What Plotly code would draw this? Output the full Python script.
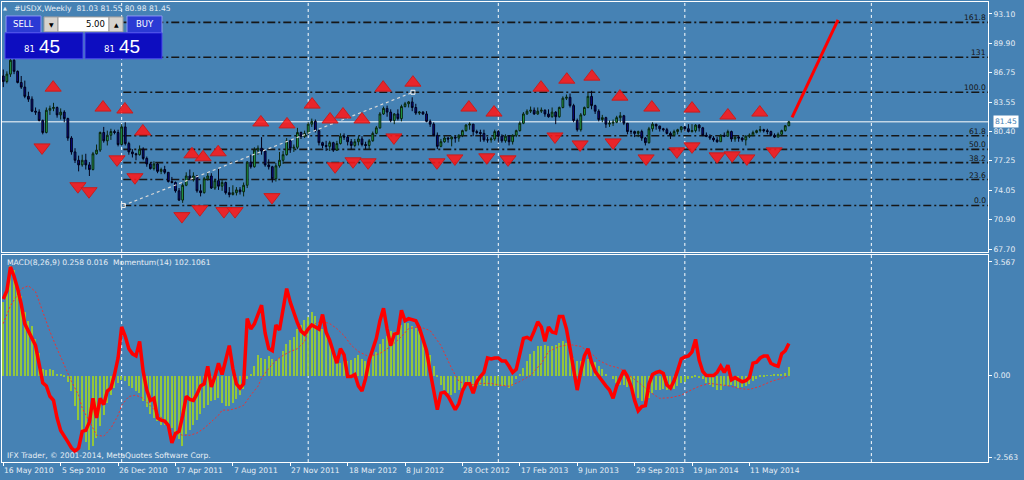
import plotly.graph_objects as go

W, H = 1024, 480
BG = "#4682B4"
FONT = "DejaVu Sans"
TXT = "#E6EEF5"

# ---------------- data ----------------
bars = list(range(220))
first_open = 86.4
close = [85.8, 86.6, 88.1, 86.9, 85.7, 85.2, 84.2, 83.9, 82.6, 82.5,
         81.6, 80.3, 82.7, 82.9, 83.0, 82.2, 82.5, 81.8, 79.7, 78.2,
         77.3, 76.8, 77.3, 76.8, 76.3, 78.0, 78.4, 80.3, 79.4, 80.0,
         80.4, 80.3, 79.0, 80.9, 79.1, 78.2, 78.0, 77.9, 78.5, 77.5,
         76.9, 76.4, 76.9, 76.1, 76.3, 76.0, 75.0, 74.9, 74.0, 73.0,
         74.6, 75.6, 75.3, 75.6, 74.0, 73.8, 75.3, 75.6, 74.3, 75.1,
         74.5, 74.9, 73.8, 73.6, 73.8, 74.1, 73.9, 74.6, 77.1, 76.6,
         78.4, 78.6, 78.3, 76.8, 76.6, 75.3, 76.7, 77.3, 77.9, 79.4,
         78.6, 78.7, 80.3, 79.9, 80.2, 81.2, 81.5, 80.5, 79.2, 78.9,
         78.8, 79.2, 78.4, 79.1, 79.9, 79.8, 79.3, 78.9, 79.3, 79.6,
         79.0, 78.9, 79.4, 80.2, 80.8, 82.3, 82.9, 82.5, 81.6, 82.3,
         81.8, 83.1, 83.4, 83.6, 83.0, 82.4, 82.5, 82.3, 81.5, 81.2,
         80.0, 78.8, 79.3, 79.7, 79.6, 79.8, 79.7, 80.0, 80.5, 81.1,
         81.2, 80.4, 80.3, 80.2, 79.5, 79.5, 79.6, 80.4, 79.9, 79.4,
         79.9, 79.3, 80.0, 80.5, 81.3, 82.3, 82.6, 82.7, 82.3, 82.6,
         82.7, 82.3, 82.0, 82.5, 82.0, 83.0, 84.0, 84.1, 83.2, 81.6,
         80.6, 82.2, 83.0, 84.2, 83.2, 82.6, 81.7, 81.9, 81.2, 81.3,
         81.4, 81.9, 82.1, 81.3, 80.4, 80.4, 80.2, 80.4, 79.7, 79.2,
         80.7, 81.2, 81.0, 80.7, 80.6, 80.2, 80.0, 80.4, 80.6, 80.9,
         80.7, 80.4, 80.5, 81.1, 80.8, 80.0, 79.9, 79.7, 79.5, 79.3,
         80.0, 79.9, 80.4, 79.6, 79.8, 79.7, 79.5, 79.9, 80.0, 80.3,
         80.5, 80.6, 80.5, 80.4, 80.0, 79.8, 80.1, 80.5, 81.03, 81.45]
high = [87.1, 86.9, 88.3, 88.7, 87.0, 86.4, 85.9, 84.7, 84.2, 83.0,
        82.8, 81.7, 83.0, 83.2, 83.5, 83.1, 82.9, 82.7, 81.9, 79.9,
        78.6, 77.8, 77.9, 78.0, 77.1, 78.2, 79.0, 80.4, 80.9, 80.5,
        80.7, 80.6, 80.6, 81.2, 81.4, 79.3, 78.5, 78.1, 78.9, 78.7,
        77.7, 77.1, 77.2, 77.0, 76.5, 76.7, 76.0, 75.5, 75.0, 74.3,
        74.8, 76.0, 76.3, 76.0, 75.7, 74.7, 75.5, 76.0, 75.9, 75.3,
        76.4, 75.2, 75.0, 74.4, 74.6, 74.4, 74.4, 74.9, 77.2, 77.9,
        78.7, 78.9, 79.8, 78.4, 77.4, 76.7, 77.0, 78.2, 78.3, 79.7,
        79.5, 79.0, 80.8, 80.4, 80.5, 81.4, 81.8, 81.7, 80.6, 79.3,
        79.4, 79.4, 79.3, 79.4, 80.2, 80.2, 80.0, 79.6, 79.6, 79.9,
        79.9, 79.3, 79.6, 80.4, 81.0, 82.5, 83.1, 83.2, 82.8, 82.4,
        82.8, 83.3, 83.6, 83.7, 84.1, 83.4, 82.6, 82.6, 82.6, 81.7,
        81.4, 80.3, 79.6, 79.9, 79.8, 79.9, 79.9, 80.1, 80.6, 81.2,
        81.4, 81.2, 80.6, 80.6, 80.6, 79.8, 79.8, 80.6, 80.6, 80.1,
        80.1, 80.0, 80.1, 80.6, 81.5, 82.5, 82.8, 83.1, 83.0, 83.0,
        83.0, 82.8, 82.8, 83.0, 82.6, 83.1, 84.2, 84.4, 84.5, 83.4,
        81.8, 82.4, 83.1, 84.6, 84.8, 83.3, 82.8, 82.2, 82.0, 81.6,
        81.7, 82.1, 82.5, 82.2, 81.3, 80.6, 80.5, 80.5, 80.6, 79.8,
        80.9, 81.4, 81.2, 81.0, 80.8, 80.8, 80.4, 80.6, 80.7, 81.0,
        81.0, 81.2, 81.2, 81.2, 81.2, 80.9, 80.3, 80.1, 79.9, 79.8,
        80.1, 80.3, 80.6, 80.5, 79.9, 79.9, 79.8, 80.0, 80.2, 80.5,
        80.6, 81.0, 80.7, 80.7, 80.5, 80.2, 80.3, 80.6, 81.1, 81.55]
low = [85.2, 85.6, 86.3, 86.6, 85.6, 85.0, 84.0, 83.6, 82.5, 82.2,
       81.5, 80.1, 80.2, 82.2, 82.6, 81.9, 81.7, 81.4, 79.4, 77.9,
       77.0, 76.1, 76.6, 76.3, 75.6, 76.2, 77.9, 78.2, 79.2, 78.9,
       79.5, 80.1, 78.8, 78.9, 78.9, 77.9, 77.6, 77.3, 77.8, 77.3,
       76.6, 76.3, 76.2, 75.9, 75.8, 75.8, 74.9, 74.8, 73.8, 72.9,
       72.7, 74.5, 75.2, 75.0, 73.8, 73.4, 73.7, 75.1, 74.2, 74.1,
       74.1, 74.0, 73.6, 73.3, 73.5, 73.5, 73.6, 73.4, 74.3, 76.4,
       76.5, 77.9, 77.9, 76.6, 76.3, 74.9, 75.0, 76.5, 76.9, 77.8,
       78.1, 78.2, 78.5, 79.6, 79.7, 80.0, 80.9, 80.3, 78.9, 78.6,
       78.3, 78.3, 78.2, 78.3, 79.0, 79.5, 78.9, 78.5, 78.7, 78.9,
       78.8, 78.5, 78.5, 79.3, 80.1, 80.7, 82.2, 82.0, 81.4, 81.2,
       81.6, 81.5, 83.0, 83.0, 82.6, 82.2, 82.2, 82.2, 81.4, 80.9,
       79.9, 78.5, 78.7, 79.2, 79.2, 78.8, 79.2, 79.3, 79.8, 80.4,
       80.6, 79.9, 80.1, 79.3, 79.3, 79.2, 79.2, 79.4, 79.2, 79.2,
       79.2, 78.9, 79.0, 79.8, 80.4, 81.2, 82.2, 82.4, 82.2, 82.2,
       82.4, 82.0, 81.9, 81.9, 81.2, 81.9, 82.9, 83.8, 83.0, 81.4,
       80.4, 80.4, 82.1, 82.9, 82.8, 82.3, 81.5, 81.4, 80.8, 80.9,
       81.0, 81.3, 81.4, 81.1, 80.1, 80.1, 79.8, 79.8, 79.4, 78.9,
       79.1, 80.4, 80.6, 80.4, 80.4, 80.1, 79.6, 79.9, 80.1, 80.3,
       80.4, 80.3, 80.3, 80.3, 80.4, 79.9, 79.8, 79.5, 79.3, 79.2,
       79.3, 79.8, 79.9, 79.3, 79.3, 79.3, 79.3, 78.9, 79.7, 79.9,
       80.2, 80.3, 80.3, 80.1, 79.9, 79.7, 79.8, 79.9, 80.4, 80.98]
opens = [first_open] + close[:-1]

macd_hist = [2.3, 2.6, 3.45, 3.3, 2.9, 2.5, 2.0, 1.7, 1.55, 1.15,
             0.7, 0.22, 0.16, 0.22, 0.18, 0.06, 0.03, -0.05, -0.19, -0.5,
             -0.95, -1.4, -1.85, -2.1, -2.35, -2.2, -1.95, -1.6, -1.25, -0.85,
             -0.6, -0.4, -0.22, -0.15, -0.18, -0.32, -0.4, -0.5, -0.55, -0.81,
             -1.0, -1.2, -1.35, -1.44, -1.55, -1.57, -1.62, -1.66, -1.8, -2.0,
             -2.2, -1.85, -1.7, -1.55, -1.4, -1.2, -1.03, -0.94, -0.81, -0.78,
             -0.72, -0.85, -0.97, -0.97, -0.85, -0.74, -0.62, -0.42, -0.1, 0.05,
             0.3, 0.63, 0.55, 0.53, 0.62, 0.53, 0.45, 0.55, 0.78, 1.0,
             1.12, 1.2, 1.45, 1.6, 1.75, 1.85, 2.0, 1.88, 1.65, 1.47,
             1.38, 1.1, 0.84, 0.55, 0.4, 0.45, 0.45, 0.5, 0.56, 0.63,
             0.53, 0.44, 0.55, 0.65, 0.75, 1.0, 1.16, 1.25, 1.41, 1.38,
             1.45, 1.58, 1.66, 1.65, 1.55, 1.48, 1.4, 1.16, 0.91, 0.63,
             0.3, -0.05, -0.3, -0.47, -0.56, -0.62, -0.56, -0.47, -0.4, -0.34,
             -0.32, -0.33, -0.34, -0.3, -0.34, -0.34, -0.34, -0.34, -0.34, -0.34,
             -0.32, -0.38, -0.33, -0.12, 0.02, 0.25, 0.47, 0.67, 0.78, 0.94,
             0.94, 0.96, 0.94, 0.93, 0.95, 1.03, 1.08, 1.02, 0.8, 0.55,
             0.44, 0.47, 0.53, 0.53, 0.46, 0.42, 0.3, 0.2, 0.06, 0.0,
             -0.1, -0.25, -0.3, -0.3, -0.36, -0.47, -0.62, -0.72, -0.81, -0.8,
             -0.7, -0.55, -0.47, -0.47, -0.42, -0.47, -0.47, -0.41, -0.33, -0.25,
             -0.19, -0.12, -0.08, -0.05, -0.07, -0.12, -0.22, -0.29, -0.36, -0.47,
             -0.45, -0.34, -0.34, -0.31, -0.34, -0.38, -0.37, -0.34, -0.27, -0.17,
             -0.1, -0.05, -0.05, -0.01, 0.01, 0.03, 0.02, 0.03, 0.08, 0.26]

signal_bars = [0, 2, 5, 7, 9, 11, 13, 15, 17, 19, 21, 22, 24, 26, 28, 30, 32, 33, 35, 37,
               39, 41, 43, 45, 46, 48, 50, 52, 54, 56, 58, 60, 61, 63, 65, 67, 69, 71, 72, 74,
               76, 78, 80, 82, 84, 85, 87, 89, 91, 93, 95, 97, 99, 102, 105, 108, 111, 113, 116, 119,
               122, 125, 127, 130, 133, 136, 138, 141, 144, 147, 150, 152, 155, 158, 161, 164, 166, 169, 172, 175,
               178, 180, 183, 186, 189, 191, 194, 197, 200, 203, 205, 208, 211, 214, 217, 219]
signal_vals = [1.63, 2.19, 2.72, 2.82, 2.63, 2.0, 1.38, 0.84, 0.31, -0.19, -0.62, -1.03, -1.44, -1.88, -1.91, -1.66, -1.25, -0.94, -0.66, -0.62,
               -0.72, -0.94, -1.19, -1.44, -1.66, -1.81, -1.88, -1.88, -1.81, -1.66, -1.44, -1.25, -1.09, -1.09, -1.03, -0.94, -0.62, -0.34, -0.09, 0.22,
               0.47, 0.63, 0.75, 0.84, 1.06, 1.38, 1.63, 1.69, 1.63, 1.47, 1.25, 0.95, 0.75, 0.59, 0.69, 0.91, 1.22, 1.47, 1.53, 1.41,
               0.94, 0.22, -0.19, -0.3, -0.25, -0.25, -0.3, -0.34, -0.19, 0.0, 0.38, 0.75, 0.91, 0.97, 0.91, 0.69, 0.47, 0.31, 0.22, -0.03,
               -0.3, -0.5, -0.72, -0.7, -0.62, -0.5, -0.34, -0.25, -0.3, -0.34, -0.41, -0.44, -0.34, -0.19, -0.09, 0.0]

momentum = [106.4, 107.2, 109.5, 108.6, 107.4, 105.9, 104.0, 103.3, 102.5, 101.9,
            100.1, 98.3, 98.0, 97.0, 96.6, 94.9, 93.7, 93.2, 92.6, 92.0,
            91.7, 92.0, 93.6, 93.7, 94.5, 96.8, 94.9, 96.8, 96.2, 97.5,
            97.8, 99.1, 100.7, 103.7, 102.8, 101.6, 101.1, 100.9, 102.3, 99.4,
            97.6, 96.6, 96.8, 94.9, 94.7, 94.6, 94.2, 92.5, 93.4, 93.6,
            95.1, 97.0, 96.7, 96.6, 97.2, 98.0, 98.2, 99.9, 97.9, 98.9,
            100.2, 99.1, 100.7, 101.9, 99.7, 98.2, 97.8, 98.2, 104.5, 103.5,
            104.0, 105.0, 105.8, 103.1, 101.6, 101.4, 103.9, 103.4, 105.5, 107.4,
            106.1, 105.0, 104.1, 103.3, 103.0, 103.5, 103.9, 103.7, 103.5, 104.9,
            103.2, 102.4, 101.4, 100.2, 101.6, 101.0, 98.9, 98.9, 99.1, 98.0,
            97.5, 98.7, 100.5, 101.6, 102.6, 104.3, 105.5, 103.5, 101.9, 103.0,
            103.1, 105.3, 104.3, 104.5, 104.4, 104.3, 103.6, 102.6, 101.4, 99.4,
            97.4, 95.7, 97.3, 97.4, 97.0, 96.3, 95.7, 96.3, 97.5, 98.2,
            98.2, 97.3, 98.4, 98.9, 99.3, 100.7, 100.6, 100.7, 100.7, 100.4,
            100.4, 99.9, 99.3, 99.6, 101.1, 102.6, 102.7, 102.5, 103.3, 104.2,
            103.7, 102.3, 103.7, 103.2, 103.1, 104.7, 104.7, 103.5, 101.6, 99.7,
            97.6, 99.4, 100.9, 101.6, 100.3, 99.4, 98.9, 98.5, 98.0, 97.6,
            96.8, 98.0, 98.7, 99.5, 98.9, 98.0, 96.6, 95.6, 96.0, 96.1,
            98.2, 99.1, 99.3, 99.4, 99.2, 98.1, 97.8, 98.5, 99.5, 100.6,
            100.8, 100.9, 101.3, 102.5, 100.5, 99.4, 99.0, 99.0, 99.0, 99.3,
            99.9, 99.3, 100.0, 98.6, 98.8, 98.6, 98.4, 98.5, 98.8, 100.2,
            100.3, 100.7, 100.9, 100.9, 100.2, 100.0, 99.9, 101.1, 101.4, 102.1]

up_arrow_bars = [13.9, 27.8, 33.9, 38.9, 52.6, 55.7, 59.9, 71.8, 79.1, 86.1, 91.1, 94.7, 100.0,
                 105.9, 114.2, 129.8, 136.8, 149.9, 157.1, 164.1, 171.9, 180.8, 192.0, 202.0, 210.9]
up_arrow_prices = [85.14, 82.99, 82.78, 80.41, 77.94, 77.62, 78.16, 81.38, 81.17, 83.31, 81.70, 82.24, 81.70,
                   85.14, 85.68, 82.99, 82.45, 85.14, 86.00, 86.33, 84.17, 82.99, 82.88, 82.13, 82.45]
down_arrow_bars = [10.8, 20.8, 23.9, 31.7, 36.7, 49.8, 54.8, 61.5, 64.6, 74.9, 92.5, 97.5, 101.7, 108.9,
                   120.9, 125.9, 134.8, 140.7, 153.8, 160.8, 170.0, 179.2, 187.8, 192.0, 199.0, 203.2, 207.3, 214.9]
down_arrow_prices = [78.69, 74.50, 73.96, 77.40, 75.47, 71.27, 72.02, 71.81, 71.81, 73.32, 76.65, 77.19, 77.08, 79.77,
                     77.08, 77.50, 77.62, 77.40, 79.87, 79.01, 79.23, 77.50, 78.26, 78.80, 77.72, 77.83, 77.50, 78.26]

fib_levels = ["0.0", "23.6", "38.2", "50.0", "61.8", "100.0", "131", "161.8"]
fib_prices = [72.42, 75.22, 77.04, 78.48, 79.95, 84.64, 88.42, 92.19]
fib_anchor_bars = [33.45, 114.2]
fib_anchor_prices = [72.42, 84.64]

trend_bars = [219.9, 232.7]
trend_prices = [81.92, 92.46]

price_ticks = [93.10, 89.90, 86.75, 83.55, 80.40, 77.25, 74.05, 70.90, 67.70]
price_tick_text = ["93.10", "89.90", "86.75", "83.55", "80.40", "77.25", "74.05", "70.90", "67.70"]
macd_ticks = [3.567, 0.0, -2.563]
macd_tick_text = ["3.567", "0.00", "-2.563"]
date_bars = [0, 16, 32, 48, 64, 80, 96, 112, 128, 144, 160, 176, 192, 208]
date_labels = ["16 May 2010", "5 Sep 2010", "26 Dec 2010", "17 Apr 2011", "7 Aug 2011", "27 Nov 2011",
               "18 Mar 2012", "8 Jul 2012", "28 Oct 2012", "17 Feb 2013", "9 Jun 2013", "29 Sep 2013",
               "19 Jan 2014", "11 May 2014"]
year_grid_bars = [33, 85, 138, 190, 242]
current_price = 81.45

# ---------------- figure ----------------
def py(y):
    return 1 - y / H

def px(x):
    return x / W

fig = go.Figure()

fig.add_trace(go.Candlestick(
    x=bars, open=opens, high=high, low=low, close=close, xaxis="x", yaxis="y",
    increasing=dict(line=dict(color="#0A240E", width=1), fillcolor="#27B050"),
    decreasing=dict(line=dict(color="#020218", width=1), fillcolor="#0B0B8C"),
    whiskerwidth=0, showlegend=False, hoverinfo="skip"))

fig.add_trace(go.Scatter(
    x=fib_anchor_bars, y=fib_anchor_prices, mode="lines+markers", xaxis="x", yaxis="y",
    line=dict(color="#D8D8D8", width=1.2, dash="3px,3px"),
    marker=dict(symbol="square-open", size=4, color="#F0F0F0"),
    showlegend=False, hoverinfo="skip"))

arrow_marker = dict(size=14, color="rgba(255,24,24,0.88)", line=dict(color="#C81E1E", width=1))
fig.add_trace(go.Scatter(
    x=up_arrow_bars, y=up_arrow_prices, mode="markers", xaxis="x", yaxis="y",
    marker=dict(symbol="triangle-up", **arrow_marker), showlegend=False, hoverinfo="skip"))
fig.add_trace(go.Scatter(
    x=down_arrow_bars, y=down_arrow_prices, mode="markers", xaxis="x", yaxis="y",
    marker=dict(symbol="triangle-down", **arrow_marker), showlegend=False, hoverinfo="skip"))

fig.add_trace(go.Scatter(
    x=trend_bars, y=trend_prices, mode="lines", xaxis="x", yaxis="y",
    line=dict(color="#FF0000", width=3), showlegend=False, hoverinfo="skip"))

# lower panel
fig.add_trace(go.Bar(
    x=bars, y=macd_hist, xaxis="x2", yaxis="y3", width=0.38,
    marker=dict(color="#9ACD32", opacity=0.92, line=dict(width=0)), showlegend=False, hoverinfo="skip"))
fig.add_trace(go.Scatter(
    x=signal_bars, y=signal_vals, mode="lines", xaxis="x2", yaxis="y3",
    line=dict(color="#F03030", width=1, dash="2px,2px"), showlegend=False, hoverinfo="skip"))
fig.add_trace(go.Scatter(
    x=bars, y=momentum, mode="lines", xaxis="x2", yaxis="y4",
    line=dict(color="#FF0000", width=3.5), showlegend=False, hoverinfo="skip"))

xr = [-0.36, 274.52]
axis_font = dict(family=FONT, size=7.6, color=TXT)

fig.update_layout(
    width=W, height=H, margin=dict(l=0, r=0, t=0, b=0),
    paper_bgcolor=BG, plot_bgcolor=BG, showlegend=False, bargap=0,
    font=dict(family=FONT, color=TXT),
    xaxis=dict(domain=[px(2), px(988)], range=xr, anchor="y", showgrid=False, zeroline=False,
               showticklabels=False, ticks="", showline=True, mirror=True, linecolor="white",
               linewidth=1, rangeslider=dict(visible=False)),
    yaxis=dict(domain=[py(253), py(2)], range=[67.40, 94.39], side="right", anchor="x",
               tickvals=price_ticks, ticktext=price_tick_text, ticks="outside", ticklen=3,
               tickcolor="white", tickfont=axis_font, showgrid=False, zeroline=False,
               showline=True, mirror=True, linecolor="white", linewidth=1),
    xaxis2=dict(domain=[px(2), px(988)], range=xr, anchor="y3", showgrid=False, zeroline=False,
                tickvals=date_bars, ticks="outside", ticklen=3, tickcolor="white",
                showticklabels=False, showline=True, mirror=True, linecolor="white", linewidth=1),
    yaxis3=dict(domain=[py(464), py(256)], range=[-2.722, 3.786], side="right", anchor="x2",
                tickvals=macd_ticks, ticktext=macd_tick_text, ticks="outside", ticklen=3,
                tickcolor="white", tickfont=axis_font, showgrid=False, zeroline=False,
                showline=True, mirror=True, linecolor="white", linewidth=1),
    yaxis4=dict(overlaying="y3", range=[90.64, 110.66], visible=False, anchor="x2"),
)

# vertical year grid (both panels)
for b in year_grid_bars:
    for yr in ("y domain", "y3 domain"):
        fig.add_shape(type="line", xref="x", yref=yr, x0=b, x1=b, y0=0, y1=1,
                      line=dict(color="white", width=1, dash="3px,3px"), layer="below")

# fibonacci levels
for lab, p in zip(fib_levels, fib_prices):
    fig.add_shape(type="line", xref="x", yref="y", x0=fib_anchor_bars[0], x1=xr[1], y0=p, y1=p,
                  line=dict(color="#161616", width=1.6, dash="8px,3px,2px,3px"), layer="below")
    fig.add_annotation(xref="paper", yref="y", x=px(987), y=p, text=lab, showarrow=False,
                       xanchor="right", yanchor="bottom", yshift=-1, borderpad=0,
                       font=dict(family=FONT, size=7.6, color="#151515"))

# current price line and label
fig.add_shape(type="line", xref="x domain", yref="y", x0=0, x1=1, y0=current_price, y1=current_price,
              line=dict(color="white", width=1), layer="below")
fig.add_annotation(xref="paper", yref="y", x=px(993), y=current_price, text="81.45", showarrow=False,
                   xanchor="left", yanchor="middle", bgcolor="white", borderpad=1,
                   font=dict(family=FONT, size=7.6, color=BG))

# date labels
for b, lab in zip(date_bars, date_labels):
    fig.add_annotation(xref="x2", yref="paper", x=b, y=py(472), text=lab, showarrow=False,
                       xanchor="left", yanchor="middle", xshift=0, borderpad=0, font=axis_font)

def label(x, y, s, size=7.6, color=TXT, xanchor="left", family=FONT):
    fig.add_annotation(xref="paper", yref="paper", x=px(x), y=py(y), text=s, showarrow=False,
                       xanchor=xanchor, yanchor="middle", borderpad=0,
                       font=dict(family=family, size=size, color=color))

def rect(x0, y0, x1, y1, fill, line):
    fig.add_shape(type="rect", xref="paper", yref="paper", x0=px(x0), x1=px(x1), y0=py(y1), y1=py(y0),
                  fillcolor=fill, line=dict(color=line, width=1), layer="above")

label(2, 8.5, "▲", size=5)
label(13, 8.5, "#USDX,Weekly  81.03 81.55 80.98 81.45")
label(6, 264, "MACD(8,26,9) 0.258 0.016  Momentum(14) 102.1061")
label(6, 457, "IFX Trader, © 2001-2014, MetaQuotes Software Corp.")

# one-click trading panel
rect(6, 16, 41, 33, "#2B3AD4", "#8C98F2")
rect(127, 16, 162, 33, "#2B3AD4", "#8C98F2")
rect(44, 17, 58, 32, "#D6D3CE", "#9A9A9A")
rect(58, 17, 109, 32, "#FFFFFF", "#9A9A9A")
rect(109, 17, 123, 32, "#D6D3CE", "#9A9A9A")
rect(5, 33, 83, 59, "#0D0DC0", "#4A4AEE")
rect(85, 33, 162, 59, "#0D0DC0", "#4A4AEE")
label(23.5, 24.5, "SELL", size=8.5, color="white", xanchor="center")
label(144.5, 24.5, "BUY", size=8.5, color="white", xanchor="center")
label(51, 24.5, "▼", size=6, color="#000000", xanchor="center")
label(116, 24.5, "▲", size=6, color="#000000", xanchor="center")
label(106, 24.5, "5.00", size=8.5, color="#000000", xanchor="right")
label(29, 49, "81", size=8.5, color="white", xanchor="center")
label(49, 47, "45", size=19, color="white", xanchor="center", family="Liberation Sans")
label(109, 49, "81", size=8.5, color="white", xanchor="center")
label(129, 47, "45", size=19, color="white", xanchor="center", family="Liberation Sans")

fig.write_html("out.html")
